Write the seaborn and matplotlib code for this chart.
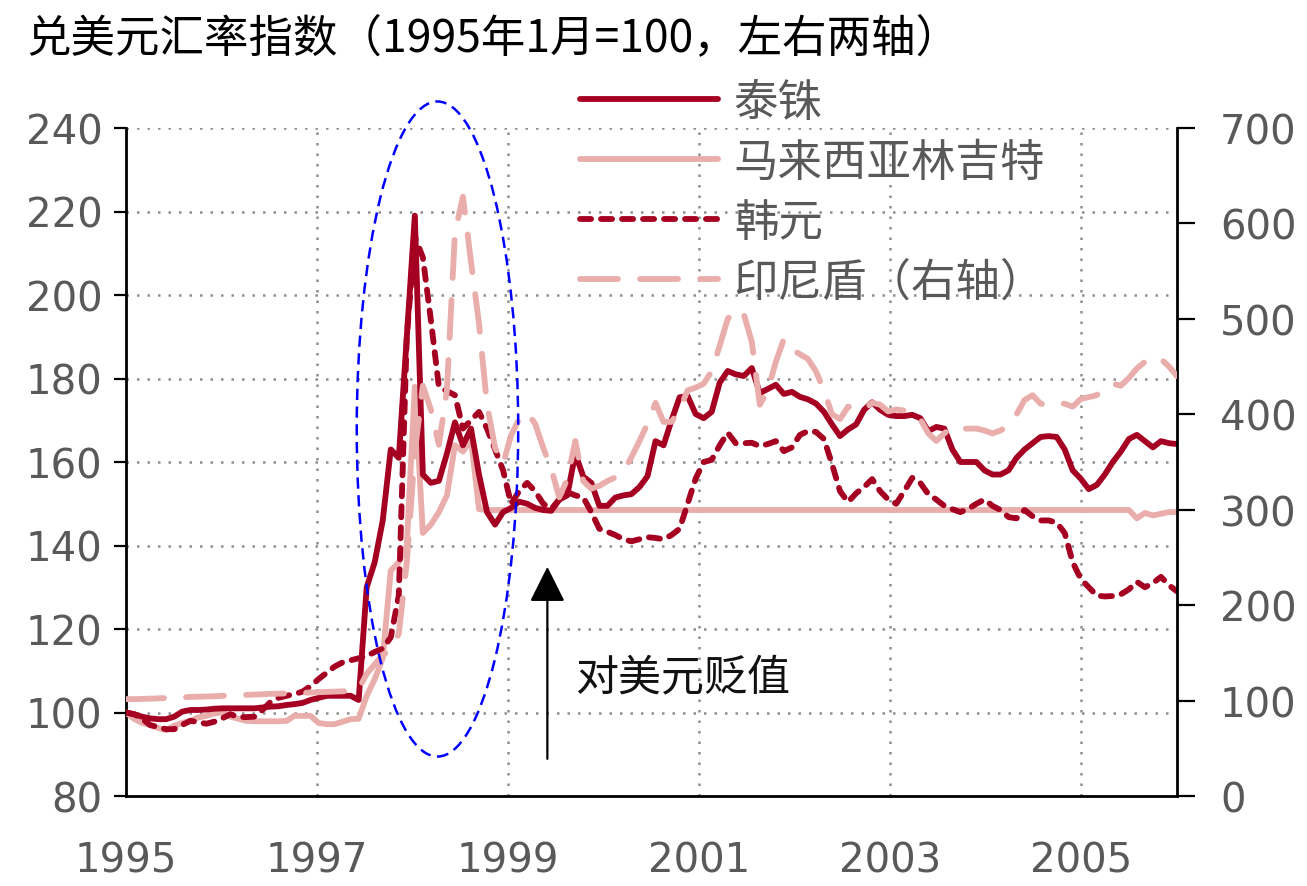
import numpy as np
import pandas as pd
import matplotlib
matplotlib.use("Agg")
import matplotlib.pyplot as plt
import seaborn as sns
from matplotlib.patches import Ellipse
from matplotlib.lines import Line2D

# ---- data: monthly exchange-rate indices vs USD (Jan 1995 = 100), Jan 1995 - Dec 2005 ----
thb = [100, 99.6, 99, 98.6, 98.4, 98.4, 99, 100.2, 100.6, 100.6, 100.7, 100.9,
       101, 101, 101, 101, 101, 101.2, 101.4, 101.5, 101.8, 102, 102.3, 103,
       103.5, 104, 104, 104, 104, 103, 130, 136, 146, 163, 161, 190,
       219, 157, 155, 155.5, 162, 169.5, 164, 168, 157, 148, 145, 148,
       149, 150.5, 150, 149, 148.5, 148.3, 151, 152, 162, 156.5, 155, 149.5,
       149.5, 151.5, 152, 152.3, 154, 156.6, 165, 164, 170, 175.5, 175.8, 171.5,
       170.5, 172, 179, 181.8, 181, 180.6, 182.5, 176.5, 177.5, 178.5, 176.3, 176.8,
       175.6, 175, 174, 172, 169, 166.2, 167.8, 169, 172.5, 174.3, 172.5, 171.3,
       171, 171, 171.3, 170.5, 167.4, 168.4, 168, 163, 160, 160, 160, 158,
       157, 157, 158, 161, 163, 164.5, 166, 166.2, 166, 163, 158, 156,
       153.5, 154.5, 157, 160, 162.5, 165.5, 166.5, 165, 163.5, 165, 164.5, 164.3]

myr = [100, 98.5, 97.5, 97, 96.3, 95.8, 96.8, 97.5, 98, 98.8, 99.2, 99.8,
       100, 99, 98.5, 98, 97.9, 97.9, 97.9, 97.9, 98, 99.2, 99.2, 99.2,
       97.5, 97.2, 97.2, 97.8, 98.4, 98.5, 104, 108, 113, 134, 136, 140,
       178, 143, 145, 148, 152, 164, 162.5, 165.5, 148.7, 148.5, 148.5, 148.5,
       148.5, 148.5, 148.5, 148.5, 148.5, 148.5, 148.5, 148.5, 148.5, 148.5, 148.5, 148.5,
       148.5, 148.5, 148.5, 148.5, 148.5, 148.5, 148.5, 148.5, 148.5, 148.5, 148.5, 148.5,
       148.5, 148.5, 148.5, 148.5, 148.5, 148.5, 148.5, 148.5, 148.5, 148.5, 148.5, 148.5,
       148.5, 148.5, 148.5, 148.5, 148.5, 148.5, 148.5, 148.5, 148.5, 148.5, 148.5, 148.5,
       148.5, 148.5, 148.5, 148.5, 148.5, 148.5, 148.5, 148.5, 148.5, 148.5, 148.5, 148.5,
       148.5, 148.5, 148.5, 148.5, 148.5, 148.5, 148.5, 148.5, 148.5, 148.5, 148.5, 148.5,
       148.5, 148.5, 148.5, 148.5, 148.5, 148.5, 146.5, 147.8, 147.2, 147.6, 148, 148]

krw = [100, 99.6, 98.5, 97, 96.5, 96, 96, 97, 98, 97.7, 97.3, 97.8,
       98.6, 99.6, 98.9, 98.9, 99, 100.6, 102.5, 103.5, 104, 104.4, 105, 106.3,
       108, 109.5, 111, 112, 112.5, 113, 113.5, 114.5, 115.3, 118, 128, 190,
       214, 209, 194, 178, 177, 176, 168, 170, 172, 168, 163, 158,
       150, 153, 155, 153, 150, 148.7, 151, 152.8, 152, 151.5, 148, 144,
       143.3, 142.5, 141.5, 141, 141.5, 142, 141.8, 141.5, 142.5, 144, 150, 156,
       160, 160.5, 164, 167, 164.5, 164.5, 164.6, 163.8, 164.3, 165, 162.6, 163.5,
       166.5, 167.4, 167.2, 165.5, 159.5, 153, 150.4, 152.5, 154, 155.9, 153, 151,
       150, 153, 156.2, 155, 152.3, 151, 149.5, 148.7, 148, 148.8, 150, 151,
       149.5, 148.5, 146.8, 146.5, 148.5, 147, 146, 146, 145.5, 143, 136, 132,
       130, 128, 127.8, 127.9, 128.3, 129.5, 131.3, 130, 131, 132.5, 130.5, 129]

idr = [101.5, 101.5, 101.7, 102, 102.3, 102.6, 103, 103.4, 103.8, 104, 104.2, 104.5,
       105, 105.3, 105.6, 106, 106.3, 106.6, 107, 107.2, 107.5, 107.8, 108, 108.3,
       108.6, 109, 109.3, 109.6, 110, 112, 128, 138, 148, 153, 170, 245,
       360, 430, 405, 368, 425, 590, 628, 560, 495, 410, 365, 348,
       378, 395, 402, 390, 365, 343, 313, 332, 372, 330, 322, 325,
       330, 334, 340, 355, 372, 390, 412, 392, 392, 405, 425, 428,
       432, 445, 472, 500, 510, 505, 476, 410, 425, 455, 479, 468,
       463, 458, 445, 425, 400, 395, 408, 407, 405, 412, 410, 403,
       405, 404, 402, 395, 380, 372, 380, 387, 385, 385, 385, 383,
       380, 383, 388, 400, 415, 420, 411, 410, 412, 411, 408, 416,
       418, 420, 428, 432, 430, 438, 448, 455, 460, 458, 450, 440]

names = ["泰铢", "马来西亚林吉特", "韩元", "印尼盾（右轴）"]
year_ticks = [1995, 1997, 1999, 2001, 2003, 2005]
left_ticks = [80, 100, 120, 140, 160, 180, 200, 220, 240]
right_ticks = [0, 100, 200, 300, 400, 500, 600, 700]
title = "兑美元汇率指数（1995年1月=100，左右两轴）"
note = "对美元贬值"

n = len(thb)
x_pos = 1995 + np.arange(n) * 11 / (n - 1)
df = pd.DataFrame({"x": x_pos, "thb": thb, "myr": myr, "krw": krw, "idr": idr})

# ---- style ----
sns.set_style("white")
plt.rcParams["font.family"] = ["Noto Sans CJK SC", "DejaVu Sans"]

DARK = "#A50021"
PINK = "#E9AEAB"
GRAY = "#595959"
LW = 4.2
korean_ls = (0, (1.9, 1.7))
indo_ls = (0, (6.5, 3.8))

fig = plt.figure(figsize=(13.07, 8.87), dpi=100)
ax = fig.add_axes([126 / 1307, 1 - 797 / 887, 1051 / 1307, 668 / 887])
ax2 = ax.twinx()

sns.lineplot(data=df, x="x", y="myr", ax=ax, color=PINK, lw=LW,
             solid_capstyle="round", zorder=3)
sns.lineplot(data=df, x="x", y="krw", ax=ax, color=DARK, lw=LW,
             linestyle=korean_ls, dash_capstyle="round", zorder=4)
sns.lineplot(data=df, x="x", y="thb", ax=ax, color=DARK, lw=LW,
             solid_capstyle="round", solid_joinstyle="round", zorder=5)
sns.lineplot(data=df, x="x", y="idr", ax=ax2, color=PINK, lw=LW,
             linestyle=indo_ls, dash_capstyle="round", zorder=3)

ax.set_xlim(1995, 2006)
ax.set_ylim(80, 240)
ax2.set_ylim(0, 700)
ax.set_xticks(year_ticks)
ax.set_xticklabels([str(y) for y in year_ticks])
ax.set_yticks(left_ticks)
ax.set_yticklabels([str(v) for v in left_ticks])
ax2.set_yticks(right_ticks)
ax2.set_yticklabels([str(v) for v in right_ticks])
ax.set_xlabel("")
ax.set_ylabel("")
ax2.set_ylabel("")

ax.set_axisbelow(True)
ax.grid(True, which="major", axis="both", color="#8f8f8f",
        linestyle=(0, (1, 3.2)), lw=1.8)

for a in (ax, ax2):
    for s in a.spines.values():
        s.set_linewidth(2.0)
        s.set_color("black")
    a.spines["top"].set_visible(False)
ax.spines["right"].set_visible(False)
ax2.spines["left"].set_visible(False)
ax2.spines["bottom"].set_visible(False)

tick_font = "DejaVu Sans"
TS = 29
ax.tick_params(axis="y", direction="out", length=9, width=1.6, color="black",
               labelsize=TS, labelcolor=GRAY, pad=8, labelfontfamily=tick_font)
ax.tick_params(axis="x", direction="out", length=9, width=1.6, color="black",
               labelsize=TS, labelcolor=GRAY, pad=23, labelfontfamily=tick_font)
ax2.tick_params(axis="y", direction="out", length=13, width=1.6, color="black",
                labelsize=TS, labelcolor=GRAY, pad=18, labelfontfamily=tick_font)

# blue dashed ellipse highlighting the crisis
ell = Ellipse((1998.26, 167.9), width=1.69, height=156.9, fill=False,
              edgecolor="#0000FF", lw=1.8, linestyle=(0, (4.5, 2.6)),
              transform=ax.transData, clip_on=False, zorder=6)
ax2.add_patch(ell)

# arrow and note
ax.annotate("", xy=(1999.41, 134.9), xytext=(1999.41, 88.9),
            arrowprops=dict(arrowstyle="-|>,head_length=1.1,head_width=0.55",
                            color="black", lw=1.6, shrinkA=0, shrinkB=0,
                            mutation_scale=20))
ax.text(1999.70, 108.5, note, fontsize=31, va="center", ha="left", color="#111111")

fig.text(26 / 1307, 1 - 38 / 887, title, fontsize=32, va="center", ha="left",
         color="black")

handles = [
    Line2D([], [], color=DARK, lw=LW, solid_capstyle="round"),
    Line2D([], [], color=PINK, lw=LW, solid_capstyle="round"),
    Line2D([], [], color=DARK, lw=LW, linestyle=korean_ls, dash_capstyle="round"),
    Line2D([], [], color=PINK, lw=LW, linestyle=indo_ls, dash_capstyle="round"),
]
leg = fig.legend(handles, names, loc="upper left",
                 bbox_to_anchor=(580 / 1307, 1 - 80 / 887), frameon=False,
                 fontsize=32, handlelength=3.1, handletextpad=0.36,
                 labelspacing=0.31, borderpad=0, borderaxespad=0,
                 labelcolor=GRAY)

fig.savefig("out.png", dpi=100)
